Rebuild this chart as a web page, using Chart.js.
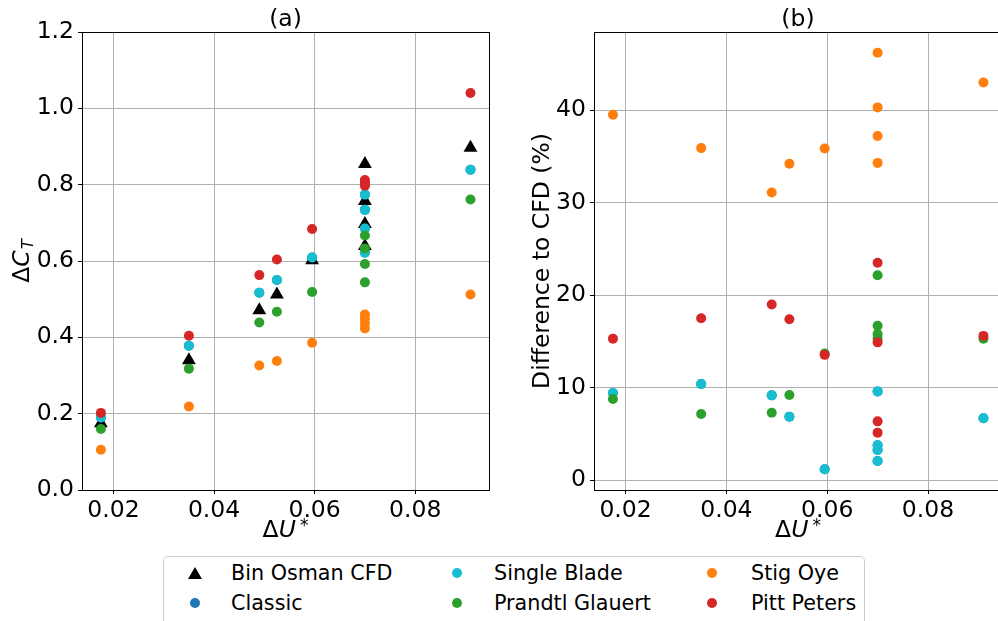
<!DOCTYPE html>
<html>
<head>
<meta charset="utf-8">
<title>Delta CT comparison</title>
<script src="https://cdn.jsdelivr.net/npm/chart.js@4.4.0/dist/chart.umd.min.js"></script>
<style>
    html, body { margin: 0; padding: 0; width: 998px; height: 621px; overflow: hidden; background: #fff; font-family: "DejaVu Sans", sans-serif; }
    #chart-a { position: absolute; left: 0; top: 0; }
    #chart-b { position: absolute; left: 510px; top: 0; }
    #legend { position: absolute; left: 163px; top: 556px; width: 700px; height: 80px; border: 1px solid #cccccc; border-radius: 5px; background: #fff; }
    .item { position: absolute; font-size: 20.7px; line-height: 24px; color: #000; white-space: nowrap; }
    .dot { position: absolute; width: 10px; height: 10px; border-radius: 50%; }
    .tri { position: absolute; width: 0; height: 0; border-left: 7px solid transparent; border-right: 7px solid transparent; border-bottom: 12px solid #000; }
</style>
</head>
<body>
<canvas id="chart-a" width="500" height="560"></canvas>
<canvas id="chart-b" width="500" height="560"></canvas>
<div id="legend"></div>

<script>
// ΔU* of every case (four cases share 0.07)
const deltaU = [0.0175, 0.035, 0.049, 0.0525, 0.0595, 0.07, 0.07, 0.07, 0.07, 0.091];

// ΔC_T per case
const ctCfd = [0.175, 0.340, 0.471, 0.512, 0.602, 0.854, 0.757, 0.697, 0.639, 0.897];
const ctClassic = [0.190, 0.378, 0.517, 0.550, 0.609, 0.774, 0.734, 0.685, 0.622, 0.839];
const ctSingleBlade = [0.190, 0.378, 0.517, 0.550, 0.609, 0.774, 0.734, 0.685, 0.622, 0.839];
const ctPrandtl = [0.160, 0.318, 0.439, 0.467, 0.519, 0.667, 0.633, 0.592, 0.544, 0.761];
const ctStigOye = [0.1055, 0.219, 0.326, 0.338, 0.386, 0.460, 0.449, 0.436, 0.423, 0.512];
const ctPittPeters = [0.202, 0.404, 0.563, 0.604, 0.684, 0.812, 0.807, 0.801, 0.797, 1.040];

// difference to CFD (%) per case
const diffClassic = [9.42, 10.4, 9.17, 6.87, 1.19, 9.6, 3.78, 2.08, 3.27, 6.69];
const diffSingleBlade = [9.42, 10.4, 9.17, 6.87, 1.19, 9.6, 3.78, 2.08, 3.27, 6.69];
const diffPrandtl = [8.77, 7.16, 7.3, 9.2, 13.7, 22.15, 16.7, 15.3, 15.8, 15.3];
const diffStigOye = [39.5, 35.9, 31.1, 34.2, 35.85, 46.2, 40.3, 37.2, 34.3, 43.0];
const diffPittPeters = [15.3, 17.5, 19.0, 17.4, 13.55, 5.14, 6.36, 14.9, 23.5, 15.6];

// axes
const xTicks = [0.02, 0.04, 0.06, 0.08];
const ctTicks = [0, 0.2, 0.4, 0.6, 0.8, 1.0, 1.2];
const diffTicks = [0, 10, 20, 30, 40];

const seriesNames = ['Bin Osman CFD', 'Classic', 'Single Blade', 'Prandtl Glauert', 'Stig Oye', 'Pitt Peters'];
const seriesColors = ['#000000', '#1f77b4', '#17becf', '#2ca02c', '#ff7f0e', '#d62728'];

const FONT = '"DejaVu Sans"';
const GRID = '#b0b0b0';
const CANVAS_H = 560;
const AREA_BOTTOM = 490;

// matplotlib-like 5% margins around the data
const xMin = 0.01374, xMax = 0.09468;

const pts = ys => deltaU.map((x, i) => ({ x: x, y: ys[i] }));

function series(idx, ys) {
    const tri = idx === 0;
    return {
        label: seriesNames[idx],
        data: pts(ys),
        order: seriesNames.length - idx,   // later series drawn on top
        pointStyle: tri ? 'triangle' : 'circle',
        pointRadius: tri ? 8 : 5,
        pointHoverRadius: tri ? 8 : 5,
        backgroundColor: seriesColors[idx],
        borderColor: seriesColors[idx],
        borderWidth: 0
    };
}

// text made of runs: plain, italic, sub/superscript
function drawRuns(ctx, runs, x, y, rotate) {
    ctx.save();
    ctx.translate(x, y);
    if (rotate) ctx.rotate(-Math.PI / 2);
    ctx.fillStyle = '#000';
    ctx.textAlign = 'left';
    ctx.textBaseline = 'alphabetic';
    const fontOf = r => (r.italic ? 'italic ' : '') + (r.size || 23.5) + 'px ' + FONT;
    let total = 0;
    runs.forEach(r => { ctx.font = fontOf(r); total += ctx.measureText(r.t).width + (r.gap || 0); });
    let cx = -total / 2;
    runs.forEach(r => {
        ctx.font = fontOf(r);
        cx += r.gap || 0;
        ctx.fillText(r.t, cx, r.dy || 0);
        cx += ctx.measureText(r.t).width;
    });
    ctx.restore();
}

const xLabelRuns = [
    { t: 'Δ' },
    { t: 'U', italic: true },
    { t: '*', size: 17, dy: -6, gap: 4 }
];

const decor = {
    id: 'decor',
    afterDraw(chart, args, opts) {
        const { ctx, chartArea: a } = chart;
        ctx.save();
        ctx.strokeStyle = '#000';
        ctx.lineWidth = 1;
        ctx.strokeRect(Math.round(a.left) + 0.5, Math.round(a.top) + 0.5,
            Math.round(a.right - a.left), Math.round(a.bottom - a.top));
        ctx.restore();

        const mid = (a.left + a.right) / 2;
        drawRuns(ctx, [{ t: opts.title }], mid, 26, false);
        drawRuns(ctx, xLabelRuns, mid, 537, false);
        drawRuns(ctx, opts.yLabel, opts.yLabelX, (a.top + a.bottom) / 2, true);
    }
};

function makeChart(id, datasets, o) {
    return new Chart(document.getElementById(id), {
        type: 'scatter',
        data: { datasets: datasets },
        plugins: [decor],
        options: {
            responsive: false,
            animation: false,
            events: [],
            layout: { padding: { top: 32, right: o.padRight, left: 0, bottom: 0 } },
            plugins: {
                legend: { display: false },
                tooltip: { enabled: false },
                decor: { title: o.title, yLabel: o.yLabel, yLabelX: o.yLabelX }
            },
            scales: {
                x: {
                    type: 'linear',
                    min: xMin,
                    max: xMax,
                    afterBuildTicks: ax => { ax.ticks = xTicks.map(v => ({ value: v })); },
                    afterFit: sc => { sc.height = CANVAS_H - AREA_BOTTOM; },
                    grid: { color: GRID, lineWidth: 1, tickColor: '#000', tickLength: 4 },
                    border: { display: false },
                    ticks: {
                        color: '#000', font: { family: FONT, size: 23.5 }, padding: 3,
                        maxRotation: 0, autoSkip: false,
                        callback: v => v.toFixed(2)
                    }
                },
                y: {
                    type: 'linear',
                    min: o.yMin,
                    max: o.yMax,
                    afterBuildTicks: ax => { ax.ticks = o.yTicks.map(v => ({ value: v })); },
                    afterFit: sc => { sc.width = o.yWidth; },
                    grid: { color: GRID, lineWidth: 1, tickColor: '#000', tickLength: 4 },
                    border: { display: false },
                    ticks: {
                        color: '#000', font: { family: FONT, size: 23.5 }, padding: 4,
                        autoSkip: false,
                        callback: o.yFmt
                    }
                }
            }
        }
    });
}

makeChart('chart-a', [
    series(0, ctCfd),
    series(1, ctClassic),
    series(2, ctSingleBlade),
    series(3, ctPrandtl),
    series(4, ctStigOye),
    series(5, ctPittPeters)
], {
    title: '(a)',
    yMin: 0, yMax: 1.2, yTicks: ctTicks,
    yFmt: v => v.toFixed(1),
    yWidth: 82, padRight: 11,
    yLabelX: 28.5,
    yLabel: [
        { t: 'Δ' },
        { t: 'C', italic: true },
        { t: 'T', italic: true, size: 16.5, dy: 4, gap: 1 }
    ]
});

makeChart('chart-b', [
    series(1, diffClassic),
    series(2, diffSingleBlade),
    series(3, diffPrandtl),
    series(4, diffStigOye),
    series(5, diffPittPeters)
], {
    title: '(b)',
    yMin: -1.06, yMax: 48.45, yTicks: diffTicks,
    yFmt: v => String(v),
    yWidth: 84, padRight: 8,
    yLabelX: 39,
    yLabel: [{ t: 'Difference to CFD (%)' }]
});

// legend, three columns of two
const legendBox = document.getElementById('legend');
const colX = [31, 293, 548];
const textX = [67, 330, 587];
const rowY = [16, 46];
seriesNames.forEach((name, i) => {
    const col = Math.floor(i / 2), row = i % 2;
    const mark = document.createElement('div');
    if (i === 0) {
        mark.className = 'tri';
        mark.style.left = (colX[col] - 7) + 'px';
        mark.style.top = (rowY[row] - 6) + 'px';
    } else {
        mark.className = 'dot';
        mark.style.background = seriesColors[i];
        mark.style.left = (colX[col] - 5) + 'px';
        mark.style.top = (rowY[row] - 5) + 'px';
    }
    legendBox.appendChild(mark);

    const label = document.createElement('div');
    label.className = 'item';
    label.textContent = name;
    label.style.left = textX[col] + 'px';
    label.style.top = (rowY[row] - 12) + 'px';
    legendBox.appendChild(label);
});
</script>
</body>
</html>
